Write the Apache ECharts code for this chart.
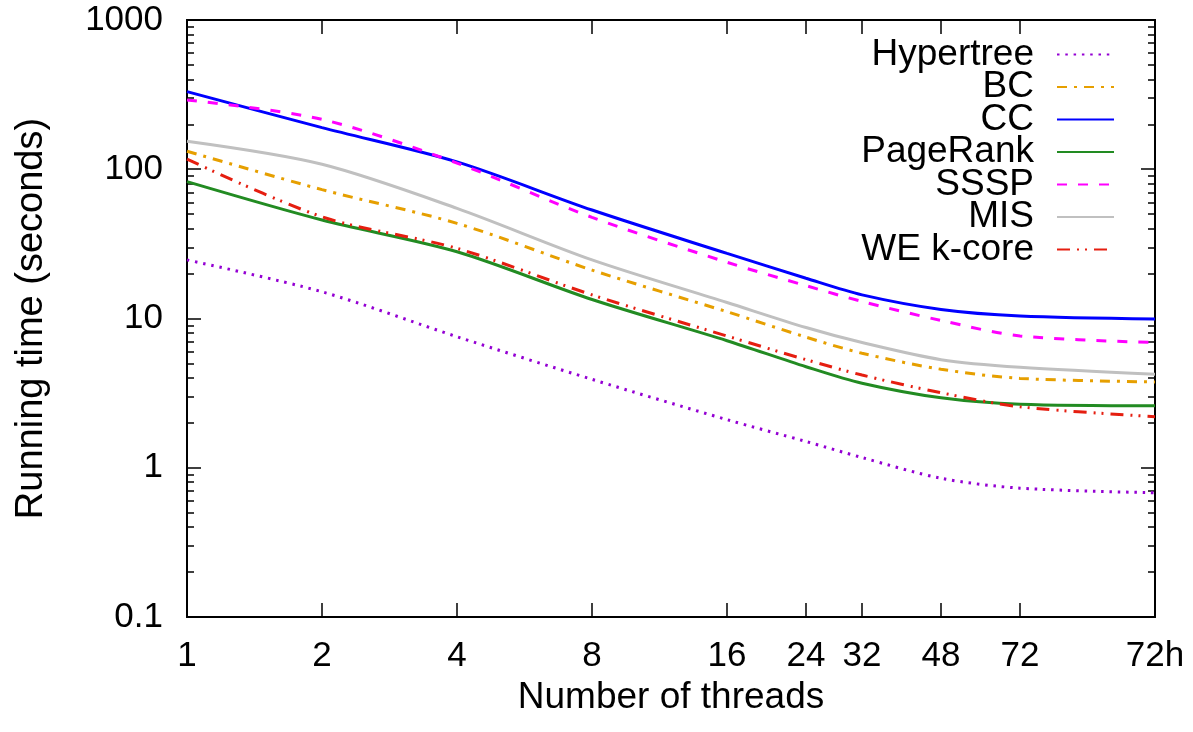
<!DOCTYPE html>
<html>
<head>
<meta charset="utf-8">
<script src="https://cdn.jsdelivr.net/npm/echarts@6/dist/echarts.min.js"></script>
<style>
html,body{margin:0;padding:0;background:#fff;}
#c{width:1193px;height:732px;}
</style>
</head>
<body>
<div id="c"></div>
<script>
// x positions (thread counts; "72h" = 72 hyperthreaded, plotted at 144)
const threadPos = [1, 2, 4, 8, 16, 24, 32, 48, 72, 144];
const threadLabels = ['1', '2', '4', '8', '16', '24', '32', '48', '72', '72h'];
const yTicks = [0.1, 1, 10, 100, 1000];

const hypertree = [24.7, 15.1, 7.55, 3.91, 2.1, 1.5, 1.17, 0.85, 0.73, 0.68];
const bc        = [132, 73, 43.4, 21.1, 11.1, 7.5, 5.85, 4.57, 3.97, 3.76];
const cc        = [331, 190, 112, 53.3, 27.3, 18.6, 14.4, 11.5, 10.4, 9.93];
const pagerank  = [82.6, 45.7, 28, 13.4, 7.1, 4.75, 3.68, 2.94, 2.66, 2.6];
const sssp      = [291, 216, 110, 47.6, 23.8, 16.6, 13.0, 9.7, 7.64, 6.9];
const mis       = [154, 108, 54.7, 24.7, 12.8, 8.7, 6.9, 5.3, 4.71, 4.23];
const wekcore   = [117, 48, 29.5, 14.4, 7.63, 5.3, 4.18, 3.18, 2.56, 2.2];

const minorTicks = [];
for (let d = 0.1; d < 1000; d *= 10) {
  for (let k = 2; k <= 9; k++) minorTicks.push(+(d * k).toPrecision(3));
}

const FONT = 'Liberation Sans, Arial, Helvetica, sans-serif';
const FS = 35;

function pairs(vals) { return threadPos.map((x, i) => [x, vals[i]]); }

function mk(name, vals, color, type) {
  return {
    name: name, type: 'line', data: pairs(vals), symbol: 'none',
    smooth: 0.3, xAxisIndex: 0, yAxisIndex: 0,
    lineStyle: { color: color, width: 3, type: type },
    itemStyle: { color: color }
  };
}

const baseX = {
  type: 'log', logBase: 2, min: 1, max: 144, splitLine: { show: false },
  axisLine: { show: true, lineStyle: { color: '#000', width: 2 } }
};
const baseY = {
  type: 'log', logBase: 10, min: 0.1, max: 1000, splitLine: { show: false },
  axisLine: { show: true, lineStyle: { color: '#000', width: 2 } }
};

const chart = echarts.init(document.getElementById('c'), null, { renderer: 'canvas' });
chart.setOption({
  animation: false,
  backgroundColor: '#fff',
  grid: { left: 187, right: 38, top: 20, bottom: 115, show: false },
  legend: {
    orient: 'vertical', align: 'right', right: 73, top: 31,
    itemWidth: 57, itemHeight: 14, itemGap: -4.5,
    itemStyle: { opacity: 0 },
    textStyle: { fontFamily: FONT, fontSize: 37, color: '#000', padding: [0, 18, 0, 0] },
    data: ['Hypertree', 'BC', 'CC', 'PageRank', 'SSSP', 'MIS', 'WE k-core']
  },
  xAxis: [
    Object.assign({}, baseX, {
      position: 'bottom',
      name: 'Number of threads', nameLocation: 'middle', nameGap: 52,
      nameTextStyle: { fontFamily: FONT, fontSize: 37, color: '#000' },
      axisTick: { show: true, inside: true, length: 14, customValues: threadPos, lineStyle: { color: '#000', width: 1.5 } },
      axisLabel: { show: true, margin: 22, customValues: threadPos, fontFamily: FONT, fontSize: FS, color: '#000',
        formatter: function (v) { const i = threadPos.indexOf(Math.round(v)); return i >= 0 ? threadLabels[i] : ''; } }
    }),
    Object.assign({}, baseX, {
      position: 'top',
      axisTick: { show: true, inside: true, length: 14, customValues: threadPos, lineStyle: { color: '#000', width: 1.5 } },
      axisLabel: { show: false }
    })
  ],
  yAxis: [
    Object.assign({}, baseY, {
      position: 'left',
      name: 'Running time (seconds)', nameLocation: 'middle', nameGap: 136,
      nameTextStyle: { fontFamily: FONT, fontSize: 38, color: '#000' },
      axisTick: { show: true, inside: true, length: 14, customValues: yTicks, lineStyle: { color: '#000', width: 1.5 } },
      axisLabel: { show: true, margin: 24, customValues: yTicks, fontFamily: FONT, fontSize: FS, color: '#000',
        formatter: function (v) { return v < 1 ? v.toFixed(1) : String(Math.round(v)); } }
    }),
    Object.assign({}, baseY, {
      position: 'left',
      axisTick: { show: true, inside: true, length: 7, customValues: minorTicks, lineStyle: { color: '#000', width: 1.5 } },
      axisLabel: { show: false }
    }),
    Object.assign({}, baseY, {
      position: 'right',
      axisTick: { show: true, inside: true, length: 14, customValues: yTicks, lineStyle: { color: '#000', width: 1.5 } },
      axisLabel: { show: false }
    }),
    Object.assign({}, baseY, {
      position: 'right',
      axisTick: { show: true, inside: true, length: 7, customValues: minorTicks, lineStyle: { color: '#000', width: 1.5 } },
      axisLabel: { show: false }
    })
  ],
  series: [
    mk('Hypertree', hypertree, '#9400d3', [2.5, 5.8]),
    mk('BC', bc, '#e69f00', [10, 7, 3, 7]),
    mk('CC', cc, '#0000ff', 'solid'),
    mk('PageRank', pagerank, '#228b22', 'solid'),
    mk('SSSP', sssp, '#ff00ff', [10, 11]),
    mk('MIS', mis, '#c0c0c0', 'solid'),
    mk('WE k-core', wekcore, '#e51e10', [13, 7, 2, 6, 2, 7])
  ]
});
</script>
</body>
</html>
